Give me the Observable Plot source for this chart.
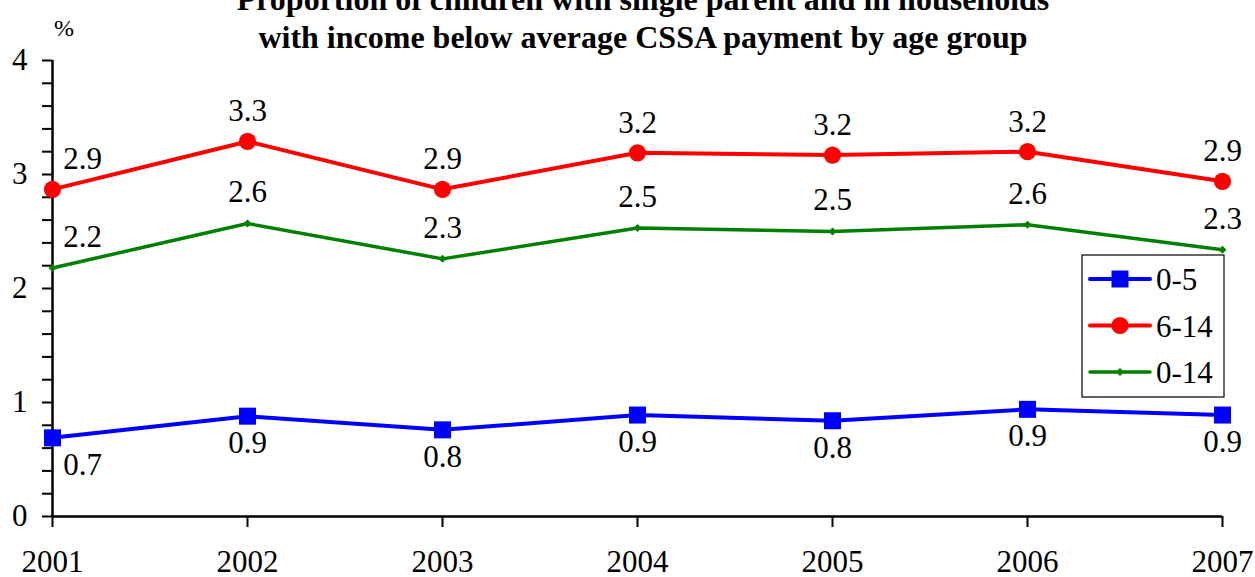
<!DOCTYPE html>
<html><head><meta charset="utf-8">
<script src="https://cdn.jsdelivr.net/npm/d3@7"></script>
<script src="https://cdn.jsdelivr.net/npm/@observablehq/plot@0.6"></script>
<style>
body{margin:0;background:#fff;}
#wrap{position:relative;width:1255px;height:577px;overflow:hidden;font-family:'Liberation Serif','Times New Roman',serif;background:#fff;}
#wrap svg text{font-family:'Liberation Serif','Times New Roman',serif;}
#overlay{position:absolute;left:0;top:0;pointer-events:none;}
</style></head><body>
<div id="wrap"></div>
<script>
// ---- data ----
const years = [2001, 2002, 2003, 2004, 2005, 2006, 2007];
const seriesNames = ["0-5", "6-14", "0-14"];
const values05 = [0.69, 0.88, 0.76, 0.89, 0.84, 0.94, 0.89];
const values614 = [2.87, 3.29, 2.87, 3.19, 3.17, 3.20, 2.94];
const values014 = [2.18, 2.57, 2.26, 2.53, 2.50, 2.56, 2.34];
const yTickLabels = [0, 1, 2, 3, 4];
const titleLines = ["Proportion of children with single parent and in households",
                    "with income below average CSSA payment by age group"];
const unitLabel = "%";

// ---- styles ----
const colors = {"0-5": "#0000ff", "6-14": "#ff0000", "0-14": "#008000"};
const symbols = {"0-5": "square", "6-14": "circle", "0-14": "diamond2"};
const radii = {"0-5": 9.6, "6-14": 8.6, "0-14": 3.6};
const widths = {"0-5": 4, "6-14": 4, "0-14": 3.5};
const labelDy = {"0-5": 27, "6-14": -30, "0-14": -31};
const FONT = "'Liberation Serif','Times New Roman',serif";
const FS = 31;

const valuesBySeries = {"0-5": values05, "6-14": values614, "0-14": values014};
const rows = seriesNames.flatMap(s => years.map((yr, i) => ({year: yr, value: valuesBySeries[s][i], series: s})));

const minorTicks = d3.range(0, 4.0001, 0.2);
const fmtY = d => {
  const r = Math.round(d);
  return (Math.abs(d - r) < 1e-6 && yTickLabels.includes(r)) ? String(r) : "";
};

const marks = [
  Plot.axisY({ticks: minorTicks, tickSize: 10, tickPadding: 15, tickFormat: fmtY, label: null, strokeWidth: 2, fontSize: FS, fontFamily: FONT}),
  Plot.axisX({ticks: years, tickSize: 11, tickPadding: 22, tickFormat: d => String(d), label: null, strokeWidth: 2, fontSize: FS, fontFamily: FONT}),
  Plot.ruleY([0], {stroke: "black", strokeWidth: 2.5}),
  Plot.ruleX([years[0]], {stroke: "black", strokeWidth: 2.5})
];
for (const s of seriesNames) {
  const d = rows.filter(r => r.series === s);
  marks.push(Plot.line(d, {x: "year", y: "value", stroke: colors[s], strokeWidth: widths[s]}));
  marks.push(Plot.dot(d, {x: "year", y: "value", fill: colors[s], symbol: symbols[s], r: radii[s], stroke: "none"}));
  marks.push(Plot.text(d.filter(r => r.year !== years[0]), {x: "year", y: "value", text: r => r.value.toFixed(1), dy: labelDy[s], fontSize: FS, fontFamily: FONT, fill: "black"}));
  marks.push(Plot.text(d.filter(r => r.year === years[0]), {x: "year", y: "value", text: r => r.value.toFixed(1), dy: labelDy[s], dx: 30, fontSize: FS, fontFamily: FONT, fill: "black"}));
}

const chart = Plot.plot({
  width: 1255, height: 577,
  marginLeft: 52, marginRight: 33, marginTop: 60, marginBottom: 61,
  x: {type: "linear", domain: [years[0], years[years.length - 1]]},
  y: {domain: [0, 4]},
  style: `font-family: ${FONT}; font-size: ${FS}px; color: black; background: white; overflow: visible;`,
  marks
});
const wrap = document.getElementById("wrap");
wrap.appendChild(chart);

// ---- overlay: title, unit, legend ----
const ov = d3.select(wrap).append("svg").attr("id", "overlay").attr("width", 1255).attr("height", 577)
  .style("font-family", FONT);
ov.append("text").attr("x", 643).attr("y", 10).attr("text-anchor", "middle").attr("font-weight", "bold").attr("font-size", 32).text(titleLines[0]);
ov.append("text").attr("x", 643).attr("y", 48).attr("text-anchor", "middle").attr("font-weight", "bold").attr("font-size", 32).text(titleLines[1]);
ov.append("text").attr("x", 54).attr("y", 36).attr("font-size", 24).text(unitLabel);

const lg = ov.append("g");
lg.append("rect").attr("x", 1082).attr("y", 255).attr("width", 142).attr("height", 142).attr("fill", "white").attr("stroke", "black").attr("stroke-width", 1.2);
seriesNames.forEach((s, i) => {
  const cy = 279 + i * 46.5;
  lg.append("line").attr("x1", 1090).attr("x2", 1150).attr("y1", cy).attr("y2", cy).attr("stroke", colors[s]).attr("stroke-width", widths[s]).attr("stroke-linecap", "round");
  const symType = {square: d3.symbolSquare, circle: d3.symbolCircle, diamond2: d3.symbolDiamond2}[symbols[s]];
  lg.append("path").attr("transform", `translate(1120,${cy})`).attr("d", d3.symbol(symType, Math.PI * radii[s] * radii[s])()).attr("fill", colors[s]);
  lg.append("text").attr("x", 1156).attr("y", cy + 11).attr("font-size", FS).text(s);
});
</script>
</body></html>
